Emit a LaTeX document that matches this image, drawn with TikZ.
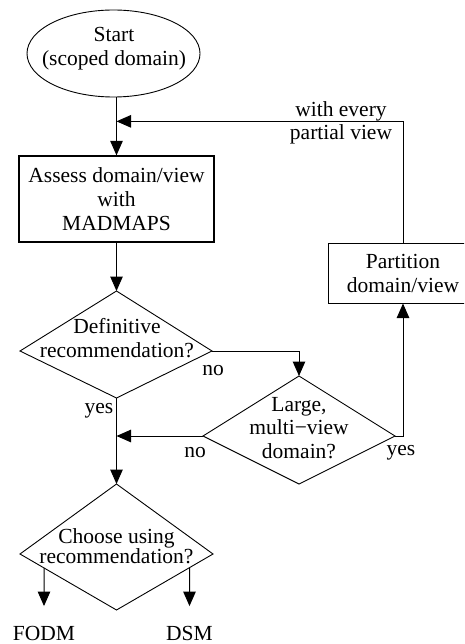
\documentclass[tikz,border=0pt]{standalone}
\usepackage{fontspec}
\setmainfont{Liberation Serif}
\usetikzlibrary{arrows.meta,shapes.geometric,calc}
\begin{document}
\begin{tikzpicture}[x=1pt,y=-1pt,
  every node/.style={font=\fontsize{21.5}{24}\selectfont, align=center},
  lbl/.style={inner sep=0pt},
  outcome/.style={inner xsep=0pt, inner ysep=19.5pt},
  arr/.style={draw, line width=1pt, -{Triangle[length=14.5pt,width=12.5pt]}},
  decision/.style={draw, line width=0.9pt, line join=miter},
  process/.style={draw, rectangle, inner sep=0pt},
]
\useasboundingbox (0,0) rectangle (464,644);
\clip (0,0) rectangle (464,644);

% start terminal
\node[draw, ellipse, line width=0.9pt, minimum width=173pt, minimum height=87pt, inner sep=0pt]
  (start) at (113.5,53.5) {};
\node[lbl] (starttext) at (114,49) {Start\\(scoped domain)};

% processes
\node[process, line width=1.3pt, minimum width=195pt, minimum height=86pt]
  (assess) at (116.5,199) {Assess domain/view\\with\\MADMAPS};
\node[process, line width=1pt, minimum width=150pt, minimum height=60pt]
  (part) at (403,273) {Partition\\domain/view};

% decision 1
\coordinate (d1t) at (116.5,291);
\coordinate (d1l) at (20,351);
\coordinate (d1r) at (212,351);
\coordinate (d1b) at (116.5,398);
\draw[decision] (d1t) -- (d1r) -- (d1b) -- (d1l) -- cycle;
\node[lbl] (d1) at (117,338) {Definitive\\recommendation?};

% decision 2
\coordinate (d2t) at (299,376);
\coordinate (d2l) at (203,436);
\coordinate (d2r) at (395,436);
\coordinate (d2b) at (299,484);
\draw[decision] (d2t) -- (d2r) -- (d2b) -- (d2l) -- cycle;
\node[lbl, font=\fontsize{21.5}{23.5}\selectfont] (d2) at (299,428) {Large,\\multi−view\\domain?};

% decision 3
\coordinate (d3t) at (116.5,484);
\coordinate (d3l) at (20,554);
\coordinate (d3r) at (213,554);
\coordinate (d3b) at (116.5,610);
\draw[decision] (d3t) -- (d3r) -- (d3b) -- (d3l) -- cycle;
\node[lbl, font=\fontsize{21.5}{19}\selectfont] (d3) at (116.5,546) {Choose using\\recommendation?};

% outcomes
\node[outcome] (fodm) at (44,633) {FODM};
\node[outcome] (dsm) at (189.5,633) {DSM};

% merge point of the feedback loop
\coordinate (merge) at ([yshift=34pt]assess.north);

% connectors
\draw[arr] (start.south -| assess.north) -- (assess.north);
\draw[arr] (part.north) |- (merge);
\draw[arr] (assess.south) -- (d1t);
\draw[arr] (d1r) -| (d2t);
\draw[arr] (d2r) -| (part.south);
\draw[arr] (d2l) -- (d2l -| d1b);
\draw[arr] (d1b) -- (d3t);
\draw[arr] (intersection of d3l--d3b and fodm.north--fodm.south) -- (fodm.north);
\draw[arr] (intersection of d3r--d3b and dsm.north--dsm.south) -- (dsm.north);

% connector labels
\node[lbl, font=\fontsize{21.5}{22.5}\selectfont] (lloop) at (341,123) {with every\\partial view};
\node[lbl] (lno1) at (213,371) {no};
\node[lbl] (lyes1) at (99,411) {yes};
\node[lbl] (lno2) at (195,453) {no};
\node[lbl] (lyes2) at (401,453) {yes};
\end{tikzpicture}
\end{document}
